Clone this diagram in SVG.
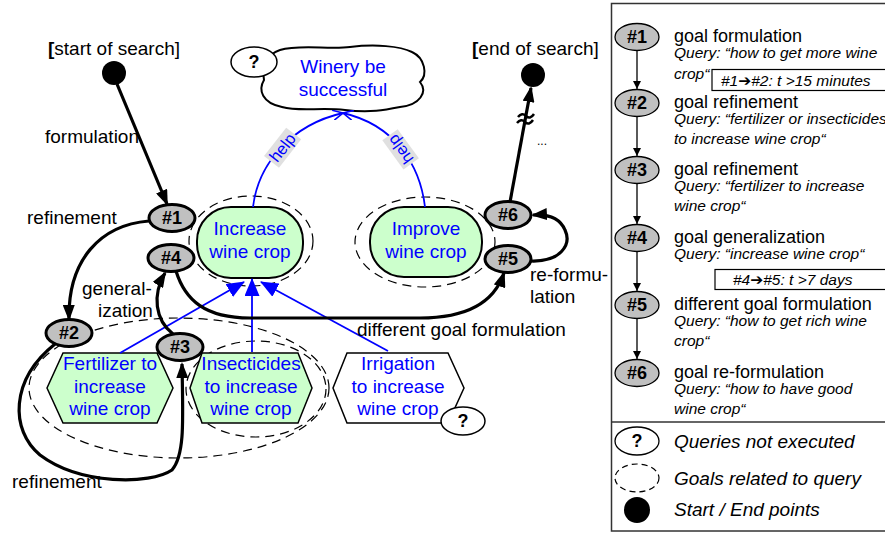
<svg xmlns="http://www.w3.org/2000/svg" width="885" height="533" viewBox="0 0 885 533">
<style>
text{font-family:"Liberation Sans",Arial,"DejaVu Sans",sans-serif;}
.lbl{font-size:19px;fill:#000;}
.blu{font-size:19px;fill:#0000ff;text-anchor:middle;}
.num{font-size:18px;font-weight:bold;text-anchor:middle;fill:#000;}
.node{fill:#c0c0c0;stroke:#000;stroke-width:3;}
.lnode{fill:#c0c0c0;stroke:#000;stroke-width:1.3;}
.goal{fill:#ccffcc;stroke:#000;stroke-width:2;}
.hex{fill:#ccffcc;stroke:#000;stroke-width:1.5;}
.dash{fill:none;stroke:#000;stroke-width:1.2;stroke-dasharray:9 6;}
.q{fill:#fff;stroke:#000;stroke-width:1.5;}
.thick{fill:none;stroke:#000;stroke-width:3.2;}
.bl{fill:none;stroke:#0000ff;stroke-width:1.8;}
.thin{fill:none;stroke:#000;stroke-width:1.3;}
.t1{font-size:18px;fill:#000;}
.t2{font-size:15.5px;font-style:italic;fill:#000;}
.t3{font-size:19px;font-style:italic;fill:#000;}
.help{font-size:16.5px;fill:#0000ff;text-anchor:middle;}
</style>
<defs>
<marker id="ab" viewBox="0 0 16 12" refX="14" refY="6" markerWidth="16" markerHeight="12" orient="auto" markerUnits="userSpaceOnUse"><path d="M0,0 L16,6 L0,12 Z" fill="#000"/></marker>
<marker id="abl" viewBox="0 0 18 15" refX="17" refY="7.5" markerWidth="18" markerHeight="15" orient="auto" markerUnits="userSpaceOnUse"><path d="M0,0 L18,7.5 L0,15 Z" fill="#0000ff"/></marker>
<marker id="aop" viewBox="0 0 10 10" refX="10" refY="5" markerWidth="10" markerHeight="10" orient="auto" markerUnits="userSpaceOnUse"><path d="M0,0 L10,5 L0,10" fill="none" stroke="#0000ff" stroke-width="1.6"/></marker>
<marker id="asm" viewBox="0 0 8 8" refX="8" refY="4" markerWidth="8" markerHeight="8" orient="auto" markerUnits="userSpaceOnUse"><path d="M0,0 L8,4 L0,8 Z" fill="#000"/></marker>
</defs>
<rect width="885" height="533" fill="#fff"/>

<g id="areas">
<ellipse class="dash" cx="251" cy="241" rx="62" ry="45"/>
<ellipse class="dash" cx="425" cy="242" rx="70" ry="45"/>
<ellipse class="dash" cx="179" cy="388" rx="150" ry="70"/>
<ellipse class="dash" cx="256" cy="389" rx="70" ry="48"/>
</g>

<g id="winery">
<path d="M280 50 C300 44,330 50,350 47 C375 44,400 46,412 52 C425 58,428 75,420 82 C428 92,420 105,400 107 C385 110,370 113,345 110 C320 107,300 112,282 107 C262 103,258 90,264 80 C262 68,265 55,280 50 Z" fill="#fff" stroke="#000" stroke-width="2"/>
<text class="blu" x="343" y="73">Winery be</text>
<text class="blu" x="343" y="96">successful</text>
<ellipse class="q" cx="254" cy="62" rx="23" ry="15"/>
<text class="num" x="254" y="68">?</text>
</g>

<g id="increase">
<rect class="goal" x="197" y="207" width="106" height="71" rx="34" ry="34"/>
<text class="blu" x="250" y="235">Increase</text>
<text class="blu" x="250" y="258">wine crop</text>
</g>
<g id="improve">
<rect class="goal" x="370" y="207" width="112" height="70" rx="34" ry="34"/>
<text class="blu" x="426" y="235">Improve</text>
<text class="blu" x="426" y="258">wine crop</text>
</g>
<g id="fertilizer">
<path class="hex" d="M63 353 L157 353 L173 388 L157 423 L63 423 L47 388 Z"/>
<text class="blu" x="110" y="370">Fertilizer to</text>
<text class="blu" x="110" y="393">increase</text>
<text class="blu" x="110" y="415">wine crop</text>
</g>
<g id="insecticides">
<path class="hex" d="M202 353 L298 353 L312 388 L298 423 L202 423 L190 388 Z"/>
<text class="blu" x="251" y="370">Insecticides</text>
<text class="blu" x="251" y="393">to increase</text>
<text class="blu" x="251" y="415">wine crop</text>
</g>
<g id="irrigation">
<path d="M347 353 L448 353 L464 388 L448 423 L347 423 L333 388 Z" fill="#fff" stroke="#000" stroke-width="1.5"/>
<text class="blu" x="398" y="370">Irrigation</text>
<text class="blu" x="398" y="393">to increase</text>
<text class="blu" x="398" y="415">wine crop</text>
<ellipse class="q" cx="463" cy="421" rx="22" ry="14"/>
<text class="num" x="463" y="427">?</text>
</g>

<g id="connectors">
<path class="bl" d="M253 207 C258 165,290 125,343 113" marker-end="url(#aop)"/>
<path class="bl" d="M425 207 C420 165,395 125,343 113" marker-end="url(#aop)"/>
<g transform="translate(283,148) rotate(-52)"><rect x="-18" y="-10" width="36" height="19" fill="#e0e0e0"/><text class="help" x="0" y="5">help</text></g>
<g transform="translate(401,149) rotate(-126)"><rect x="-18" y="-10" width="36" height="19" fill="#e0e0e0"/><text class="help" x="0" y="5">help</text></g>
<path class="bl" d="M120 353 L244 282" marker-end="url(#abl)"/>
<path class="bl" d="M252 352 L252 279" marker-end="url(#abl)"/>
<path class="bl" d="M388 351 L261 282" marker-end="url(#abl)"/>
<path class="thick" d="M117 84 L167 204" marker-end="url(#ab)"/>
<path class="thick" d="M149 221 C100 225,68 260,69 319" marker-end="url(#ab)"/>
<path class="thick" d="M173 334 C155 320,152 295,165 273" marker-end="url(#ab)"/>
<path class="thick" d="M55 344 C10 380,10 430,40 455 C80 485,150 485,172 470 C185 455,183 420,182 364" marker-end="url(#ab)"/>
<path class="thick" d="M176 271 C185 300,205 318,250 318 L420 318 C470 318,495 300,504 273" marker-end="url(#ab)"/>
<path class="thick" d="M531 261 C560 262,572 245,565 230 C560 218,548 214,533 215" marker-end="url(#ab)"/>
<path class="thick" d="M510 202 L531 88" marker-end="url(#ab)"/>
<path d="M518 117 Q522 112,526 116 T534 114 M517 123 Q521 118,525 122 T533 120" fill="none" stroke="#000" stroke-width="2.5"/>
</g>

<g id="labels">
<text class="lbl" x="48" y="55"><tspan font-weight="bold">[</tspan>start of search]</text>
<text class="lbl" x="472" y="55"><tspan font-weight="bold">[</tspan>end of search]</text>
<text class="lbl" x="45" y="143">formulation</text>
<text class="lbl" x="27" y="224">refinement</text>
<text class="lbl" x="82" y="295">general-</text>
<text class="lbl" x="98" y="317">ization</text>
<text class="lbl" x="12" y="488">refinement</text>
<text class="lbl" x="357" y="336">different goal formulation</text>
<text class="lbl" x="530" y="281">re-formu-</text>
<text class="lbl" x="530" y="303">lation</text>
<text x="537" y="145" font-size="12" fill="#000">...</text>
</g>

<g id="start"><circle cx="114" cy="73" r="12" fill="#000"/></g>
<g id="end"><circle cx="533" cy="75" r="12" fill="#000"/></g>

<g id="n1"><ellipse class="node" cx="172" cy="218" rx="23" ry="13.5"/><text class="num" x="172" y="224">#1</text></g>
<g id="n4"><ellipse class="node" cx="171" cy="258" rx="23" ry="13.5"/><text class="num" x="171" y="264">#4</text></g>
<g id="n2"><ellipse class="node" cx="69" cy="333" rx="23" ry="13.5"/><text class="num" x="69" y="339">#2</text></g>
<g id="n3"><ellipse class="node" cx="180" cy="347" rx="23" ry="13.5"/><text class="num" x="180" y="353">#3</text></g>
<g id="n6"><ellipse class="node" cx="508" cy="215" rx="23" ry="13.5"/><text class="num" x="508" y="221">#6</text></g>
<g id="n5"><ellipse class="node" cx="508" cy="259" rx="23" ry="13.5"/><text class="num" x="508" y="265">#5</text></g>

<g id="legend">
<rect x="611.5" y="3.5" width="290" height="527.5" fill="none" stroke="#333" stroke-width="1.5"/>
<line x1="611" y1="422" x2="885" y2="422" stroke="#333" stroke-width="1.5"/>
<g class="legarrows">
<path class="thin" d="M637 51 L637 89" marker-end="url(#asm)"/>
<path class="thin" d="M637 117 L637 156" marker-end="url(#asm)"/>
<path class="thin" d="M637 184 L637 224" marker-end="url(#asm)"/>
<path class="thin" d="M637 252 L637 291" marker-end="url(#asm)"/>
<path class="thin" d="M637 319 L637 359" marker-end="url(#asm)"/>
</g>
<g id="l1"><ellipse class="lnode" cx="637" cy="37" rx="22" ry="13.5"/><text class="num" x="637" y="43">#1</text>
<text class="t1" x="674" y="42">goal formulation</text>
<text class="t2" x="674" y="58">Query: “how to get more wine</text>
<text class="t2" x="674" y="79">crop“</text>
<rect x="712" y="69.5" width="180" height="21" fill="#fff" stroke="#000" stroke-width="1.2"/>
<text class="t2" x="721" y="86" font-size="16">#1➔#2: t &gt;15 minutes</text></g>
<g id="l2"><ellipse class="lnode" cx="637" cy="103" rx="22" ry="13.5"/><text class="num" x="637" y="109">#2</text>
<text class="t1" x="674" y="108">goal refinement</text>
<text class="t2" x="674" y="124">Query: “fertilizer or insecticides</text>
<text class="t2" x="674" y="144">to increase wine crop“</text></g>
<g id="l3"><ellipse class="lnode" cx="637" cy="170" rx="22" ry="13.5"/><text class="num" x="637" y="176">#3</text>
<text class="t1" x="674" y="175">goal refinement</text>
<text class="t2" x="674" y="191">Query: “fertilizer to increase</text>
<text class="t2" x="674" y="211">wine crop“</text></g>
<g id="l4"><ellipse class="lnode" cx="637" cy="238" rx="22" ry="13.5"/><text class="num" x="637" y="244">#4</text>
<text class="t1" x="674" y="243">goal generalization</text>
<text class="t2" x="674" y="259">Query: “increase wine crop“</text>
<rect x="715" y="269.5" width="180" height="20" fill="#fff" stroke="#000" stroke-width="1.2"/>
<text class="t2" x="733" y="285" font-size="16">#4➔#5: t &gt;7 days</text></g>
<g id="l5"><ellipse class="lnode" cx="637" cy="305" rx="22" ry="13.5"/><text class="num" x="637" y="311">#5</text>
<text class="t1" x="674" y="310">different goal formulation</text>
<text class="t2" x="674" y="326">Query: “how to get rich wine</text>
<text class="t2" x="674" y="346">crop“</text></g>
<g id="l6"><ellipse class="lnode" cx="637" cy="373" rx="22" ry="13.5"/><text class="num" x="637" y="379">#6</text>
<text class="t1" x="674" y="378">goal re-formulation</text>
<text class="t2" x="674" y="394">Query: “how to have good</text>
<text class="t2" x="674" y="414">wine crop“</text></g>
<g id="lq"><ellipse cx="637" cy="441" rx="22" ry="14" fill="#fff" stroke="#000" stroke-width="1.3"/><text class="num" x="637" y="447">?</text>
<text class="t3" x="674" y="448">Queries not executed</text></g>
<g id="lg"><ellipse cx="637" cy="478" rx="22" ry="14" fill="none" stroke="#000" stroke-width="1.2" stroke-dasharray="6 4"/>
<text class="t3" x="674" y="485">Goals related to query</text></g>
<g id="ls"><circle cx="637" cy="510" r="13" fill="#000"/>
<text class="t3" x="674" y="516">Start / End points</text></g>
</g>
</svg>
